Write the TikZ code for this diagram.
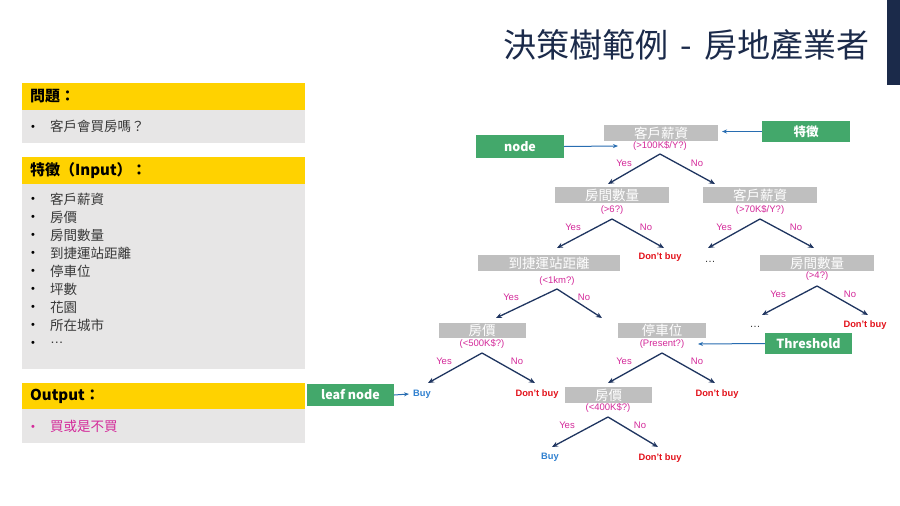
\documentclass[tikz,border=0pt]{standalone}
\usepackage{fontspec}
\setmainfont{Liberation Sans}
\newfontfamily\cjk{Noto Sans CJK TC}
\usetikzlibrary{arrows.meta}
\definecolor{navy}{HTML}{1B2A4A}
\definecolor{yelbar}{HTML}{FFD200}
\definecolor{pgray}{HTML}{E7E6E6}
\definecolor{tgray}{HTML}{BFBFBF}
\definecolor{gbox}{HTML}{43A86B}
\definecolor{mag}{HTML}{D42A9A}
\definecolor{dred}{HTML}{E3121B}
\definecolor{bblue}{HTML}{2F80D0}
\definecolor{arr}{HTML}{1F3560}
\definecolor{ptext}{HTML}{383838}
\tikzset{
  treebox/.style={fill=tgray, draw=none, inner sep=0pt, minimum height=16pt, text=white, font=\cjk\fontsize{13.5}{13.5}\selectfont},
  greenbox/.style={fill=gbox, draw=none, inner sep=0pt, text=white, font=\cjk\bfseries\fontsize{12.5}{13}\selectfont},
  cond/.style={text=mag, inner sep=0pt, font=\fontsize{9.5}{10}\selectfont},
  yn/.style={text=mag, inner sep=0pt, font=\fontsize{9.5}{10}\selectfont},
  nobuy/.style={text=dred, inner sep=0pt, font=\bfseries\fontsize{9.3}{10}\selectfont},
  buy/.style={text=bblue, inner sep=0pt, font=\bfseries\fontsize{9.3}{10}\selectfont},
  dots/.style={text=ptext, inner sep=0pt, font=\fontsize{11}{11}\selectfont},
  tarrow/.style={draw=arr, line width=1.3pt, -{Stealth[length=6pt,width=5pt]}},
  barrow/.style={draw=bblue!85!black, line width=1pt, -{Stealth[length=5pt,width=4pt]}},
  hdr/.style={anchor=west, inner sep=0pt, text=black, font=\cjk\bfseries\fontsize{15}{16}\selectfont},
  item/.style={anchor=west, inner sep=0pt, text=ptext, font=\cjk\fontsize{13.5}{14}\selectfont},
  bul/.style={anchor=center, inner sep=0pt, text=black, font=\fontsize{11}{11}\selectfont},
  panelhead/.style={fill=yelbar, draw=none},
  panelbody/.style={fill=pgray, draw=none}
}
\begin{document}
\begin{tikzpicture}[x=1pt,y=-1pt]
\useasboundingbox (0,0) rectangle (900,506);
\fill[white] (0,0) rectangle (900,506);
% title and bar
\fill[navy] (887,0) rectangle (900,85);
\node[anchor=east, inner sep=0pt, text=navy, font=\cjk\fontsize{33}{35}\selectfont] (title) at (870,44.5) {決策樹範例\hspace{12.5pt}-\hspace{12.5pt}房地產業者};
% left panels
\path[panelhead] (22,83) rectangle (305,110);
\path[panelbody] (22,110) rectangle (305,143);
\node[hdr] (h1) at (30,96.5) {問題：};
\node[bul] (b1) at (33,128) {•};
\node[item] (i1) at (50,126) {客戶會買房嗎？};
\path[panelhead] (22,157) rectangle (305,184);
\path[panelbody] (22,184) rectangle (305,369);
\node[hdr] (h2) at (30,170.5) {特徵（Input）：};
\foreach \t [count=\k] in {客戶薪資,房價,房間數量,到捷運站距離,停車位,坪數,花園,所在城市,{\normalfont …}}{
  \node[bul] (bb\k) at (33,{182+18*\k}) {•};
  \node[item] (ii\k) at (50,{181+18*\k}) {\t};
}
\path[panelhead] (22,383) rectangle (305,409);
\path[panelbody] (22,409) rectangle (305,443);
\node[hdr] (h3) at (30,396) {Output：};
\node[bul, text=mag] (b3) at (33,428) {•};
\node[item, text=mag] (i3) at (50,426) {買或是不買};
% tree level 1
\node[treebox, minimum width=114pt] (r1) at (661,133) {客戶薪資};
\node[cond] (c1) at (660,146) {(>100K\$/Y?)};
\coordinate (a1) at (660,154);
\coordinate (e1y) at (608,184);
\coordinate (e1n) at (715,184);
\draw[tarrow] (a1) -- (e1y);
\draw[tarrow] (a1) -- (e1n);
\node[yn] (y1) at (624,163) {Yes};
\node[yn] (n1) at (697,163) {No};
\node[greenbox, minimum width=88pt, minimum height=23pt] (gnode) at (520,146.5) {node};
\coordinate (gnodeend) at (618,146);
\draw[barrow] (gnode.east) -- (gnodeend);
\node[greenbox, minimum width=88pt, minimum height=21pt] (gfeat) at (806,131.5) {特徵};
\coordinate (gfeatend) at (722,131.5);
\draw[barrow] (gfeat.west) -- (gfeatend);
% level 2
\node[treebox, minimum width=114pt] (r2) at (612,195) {房間數量};
\node[cond] (c2) at (612,210) {(>6?)};
\coordinate (a2) at (612,219);
\coordinate (e2y) at (557,248);
\coordinate (e2n) at (664,248);
\draw[tarrow] (a2) -- (e2y);
\draw[tarrow] (a2) -- (e2n);
\node[yn] (y2) at (573,227) {Yes};
\node[yn] (n2) at (646,227) {No};
\node[treebox, minimum width=114pt] (r3) at (760,195) {客戶薪資};
\node[cond] (c3) at (760,210) {(>70K\$/Y?)};
\coordinate (a3) at (760,219);
\coordinate (e3y) at (708,248);
\coordinate (e3n) at (814,248);
\draw[tarrow] (a3) -- (e3y);
\draw[tarrow] (a3) -- (e3n);
\node[yn] (y3) at (724,227) {Yes};
\node[yn] (n3) at (796,227) {No};
% level 3
\node[treebox, minimum width=142pt] (r4) at (549,263) {到捷運站距離};
\node[cond] (c4) at (557,281) {(<1km?)};
\coordinate (a4) at (557,289);
\coordinate (e4y) at (496,318);
\coordinate (e4n) at (602,318);
\draw[tarrow] (a4) -- (e4y);
\draw[tarrow] (a4) -- (e4n);
\node[yn] (y4) at (511,297) {Yes};
\node[yn] (n4) at (584,297) {No};
\node[nobuy] (d1) at (660,257) {Don't buy};
\node[dots] (dot1) at (710,262) {…};
\node[treebox, minimum width=114pt] (r5) at (817,263) {房間數量};
\node[cond] (c5) at (817,276) {(>4?)};
\coordinate (a5) at (817,286);
\coordinate (e5y) at (762,315);
\coordinate (e5n) at (868,315);
\draw[tarrow] (a5) -- (e5y);
\draw[tarrow] (a5) -- (e5n);
\node[yn] (y5) at (778,294) {Yes};
\node[yn] (n5) at (850,294) {No};
\node[nobuy] (d2) at (865,325) {Don't buy};
\node[dots] (dot2) at (755,327) {…};
% level 4
\node[treebox, minimum width=87pt, minimum height=15pt] (r6) at (482,330) {房價};
\node[cond] (c6) at (482,344) {(<500K\$?)};
\coordinate (a6) at (482,353);
\coordinate (e6y) at (428,383);
\coordinate (e6n) at (535,383);
\draw[tarrow] (a6) -- (e6y);
\draw[tarrow] (a6) -- (e6n);
\node[yn] (y6) at (444,361) {Yes};
\node[yn] (n6) at (517,361) {No};
\node[treebox, minimum width=88pt, minimum height=15pt] (r7) at (662,330.5) {停車位};
\node[cond] (c7) at (662,344) {(Present?)};
\coordinate (a7) at (662,353);
\coordinate (e7y) at (608,383);
\coordinate (e7n) at (715,383);
\draw[tarrow] (a7) -- (e7y);
\draw[tarrow] (a7) -- (e7n);
\node[yn] (y7) at (624,361) {Yes};
\node[yn] (n7) at (697,361) {No};
\node[greenbox, minimum width=87pt, minimum height=21pt] (gthr) at (808.5,343.5) {Threshold};
\coordinate (gthrend) at (698,344);
\draw[barrow] (gthr.west) -- (gthrend);
% level 5
\node[greenbox, minimum width=87pt, minimum height=22pt] (gleaf) at (350.5,395) {leaf node};
\node[buy] (bu1) at (422,394) {Buy};
\draw[barrow] (gleaf.east) -- ([xshift=-4pt]bu1.west);
\node[nobuy] (d3) at (537,394) {Don't buy};
\node[nobuy] (d4) at (717,394) {Don't buy};
\node[treebox, minimum width=87pt] (r8) at (608.5,395) {房價};
\node[cond] (c8) at (608,408) {(<400K\$?)};
\coordinate (a8) at (608,417);
\coordinate (e8y) at (552,447);
\coordinate (e8n) at (658,447);
\draw[tarrow] (a8) -- (e8y);
\draw[tarrow] (a8) -- (e8n);
\node[yn] (y8) at (567,425) {Yes};
\node[yn] (n8) at (640,425) {No};
\node[buy] (bu2) at (550,457) {Buy};
\node[nobuy] (d5) at (660,458) {Don't buy};
\end{tikzpicture}
\end{document}
